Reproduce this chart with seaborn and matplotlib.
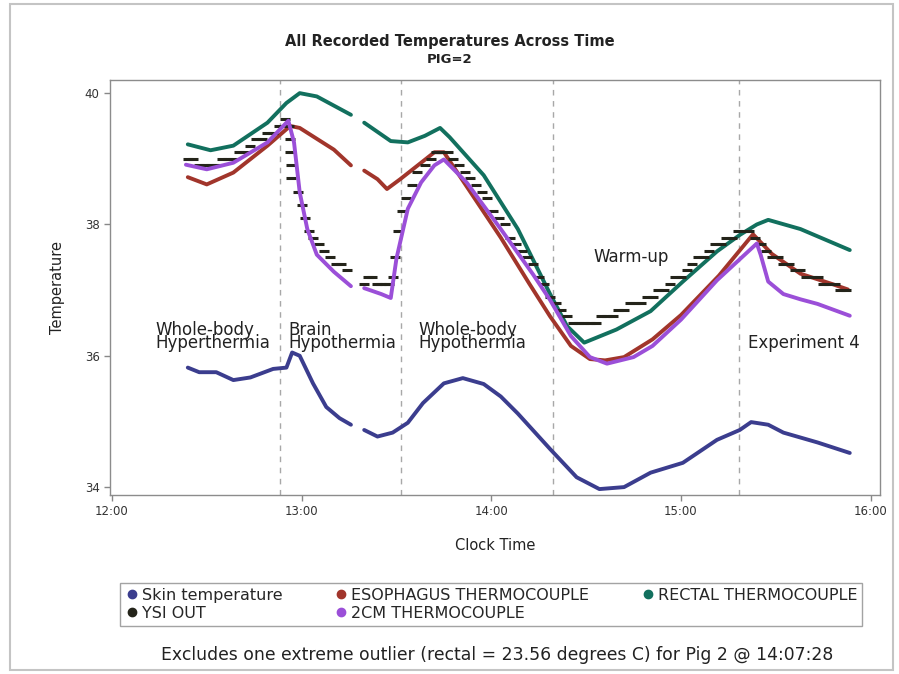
import pandas as pd
import matplotlib
matplotlib.use("Agg")
import matplotlib.pyplot as plt
import seaborn as sns
from matplotlib.lines import Line2D
from matplotlib.patches import Rectangle
from matplotlib.ticker import FuncFormatter

# --- Datos: hora del reloj en horas decimales, temperatura en grados C ---
# (None marca el hueco sin registros alrededor de las 13:17)

skin_time = [12.40, 12.46, 12.55, 12.64, 12.73, 12.85, 12.92, 12.95, 12.99, 13.06,
             13.13, 13.20, 13.26, None, 13.33, 13.40, 13.48, 13.56, 13.64, 13.75,
             13.85, 13.96, 14.05, 14.14, 14.31, 14.45, 14.57, 14.70, 14.84, 15.01,
             15.19, 15.31, 15.37, 15.46, 15.54, 15.72, 15.89]
skin_temp = [35.82, 35.75, 35.75, 35.63, 35.67, 35.80, 35.82, 36.05, 36.00, 35.58,
             35.22, 35.05, 34.95, None, 34.87, 34.77, 34.83, 34.98, 35.28, 35.58,
             35.66, 35.57, 35.38, 35.12, 34.58, 34.15, 33.97, 34.00, 34.22, 34.37,
             34.72, 34.87, 34.99, 34.95, 34.83, 34.68, 34.52]

esoph_time = [12.40, 12.50, 12.64, 12.82, 12.94, 12.99, 13.17, 13.26, None, 13.33,
              13.40, 13.45, 13.52, 13.63, 13.70, 13.75, 13.87, 14.05, 14.20, 14.31,
              14.42, 14.52, 14.60, 14.70, 14.85, 15.00, 15.20, 15.38, 15.48, 15.63,
              15.80, 15.88]
esoph_temp = [38.72, 38.61, 38.79, 39.20, 39.50, 39.47, 39.14, 38.90, None, 38.82,
              38.69, 38.54, 38.69, 38.94, 39.10, 39.10, 38.58, 37.80, 37.10, 36.60,
              36.15, 35.95, 35.93, 35.98, 36.25, 36.62, 37.22, 37.85, 37.55, 37.25,
              37.09, 37.01]

rectal_time = [12.40, 12.52, 12.64, 12.82, 12.92, 12.99, 13.08, 13.26, None, 13.33,
               13.47, 13.56, 13.65, 13.73, 13.78, 13.96, 14.14, 14.31, 14.40, 14.49,
               14.66, 14.84, 15.01, 15.19, 15.31, 15.40, 15.46, 15.63, 15.89]
rectal_temp = [39.22, 39.13, 39.20, 39.55, 39.85, 40.00, 39.95, 39.67, None, 39.55,
               39.27, 39.25, 39.35, 39.47, 39.33, 38.75, 37.93, 36.94, 36.45, 36.20,
               36.40, 36.68, 37.13, 37.59, 37.84, 38.00, 38.07, 37.93, 37.61]

cm2_time = [12.39, 12.50, 12.64, 12.82, 12.93, 12.96, 12.99, 13.03, 13.08, 13.17,
            13.26, None, 13.33, 13.42, 13.47, 13.50, 13.56, 13.63, 13.70, 13.75,
            13.87, 14.05, 14.22, 14.31, 14.42, 14.52, 14.61, 14.75, 14.85, 15.00,
            15.19, 15.40, 15.42, 15.46, 15.54, 15.63, 15.72, 15.89]
cm2_temp = [38.91, 38.84, 38.94, 39.25, 39.58, 39.25, 38.49, 37.93, 37.54, 37.28,
            37.06, None, 37.03, 36.94, 36.88, 37.48, 38.24, 38.64, 38.90, 38.99,
            38.64, 37.93, 37.24, 36.85, 36.30, 35.98, 35.88, 35.98, 36.15, 36.55,
            37.15, 37.71, 37.54, 37.13, 36.94, 36.86, 36.79, 36.61]

# Lecturas del YSI (resolucion de 0.1 grados)
ysi_time = [12.40, 12.43, 12.46, 12.49, 12.52, 12.55, 12.58, 12.61, 12.64, 12.67,
            12.70, 12.73, 12.76, 12.79, 12.82, 12.85, 12.88, 12.91, 12.935, 12.94,
            12.94, 12.945, 12.945, 12.98, 13.00, 13.02, 13.04, 13.06, 13.09, 13.12,
            13.15, 13.18, 13.21, 13.24, 13.33, 13.35, 13.37, 13.40, 13.42, 13.44,
            13.46, 13.48, 13.49, 13.51, 13.53, 13.55, 13.58, 13.61, 13.65, 13.68,
            13.71, 13.74, 13.77, 13.80, 13.83, 13.86, 13.89, 13.92, 13.95, 13.98,
            14.01, 14.04, 14.07, 14.10, 14.13, 14.16, 14.19, 14.22, 14.25, 14.28,
            14.31, 14.34, 14.37, 14.40, 14.43, 14.46, 14.49, 14.52, 14.55, 14.58,
            14.61, 14.64, 14.67, 14.70, 14.73, 14.76, 14.79, 14.82, 14.85, 14.88,
            14.91, 14.94, 14.97, 15.00, 15.03, 15.06, 15.09, 15.12, 15.15, 15.18,
            15.21, 15.24, 15.27, 15.30, 15.33, 15.36, 15.39, 15.42, 15.45, 15.48,
            15.51, 15.54, 15.57, 15.60, 15.63, 15.66, 15.69, 15.72, 15.75, 15.78,
            15.81, 15.84, 15.87]
ysi_temp = [39.0, 39.0, 38.9, 38.9, 38.9, 38.9, 39.0, 39.0, 39.0, 39.1,
            39.1, 39.2, 39.3, 39.3, 39.4, 39.4, 39.5, 39.6, 39.5, 39.3,
            39.1, 38.9, 38.7, 38.5, 38.3, 38.1, 37.9, 37.8, 37.7, 37.6,
            37.5, 37.4, 37.4, 37.3, 37.1, 37.2, 37.2, 37.1, 37.1, 37.1,
            37.1, 37.2, 37.5, 37.9, 38.2, 38.4, 38.6, 38.8, 38.9, 39.0,
            39.1, 39.1, 39.1, 39.0, 38.9, 38.8, 38.7, 38.6, 38.5, 38.4,
            38.2, 38.1, 38.0, 37.8, 37.7, 37.6, 37.5, 37.4, 37.2, 37.1,
            36.9, 36.8, 36.7, 36.6, 36.5, 36.5, 36.5, 36.5, 36.5, 36.6,
            36.6, 36.6, 36.7, 36.7, 36.8, 36.8, 36.8, 36.9, 36.9, 37.0,
            37.0, 37.1, 37.2, 37.2, 37.3, 37.4, 37.5, 37.5, 37.6, 37.7,
            37.7, 37.8, 37.8, 37.9, 37.9, 37.9, 37.8, 37.7, 37.6, 37.5,
            37.5, 37.4, 37.4, 37.3, 37.3, 37.2, 37.2, 37.2, 37.1, 37.1,
            37.1, 37.0, 37.0]

# Cambios de fase del experimento
phase_times = [12.888, 13.526, 14.324, 15.305]
phase_labels = ["Whole-body\nHyperthermia", "Brain\nHypothermia",
                "Whole-body\nHypothermia", "Warm-up", "Experiment 4"]
label_pos = [(12.227, 36.29), (12.929, 36.29), (13.615, 36.29), (14.538, 37.51), (15.356, 36.20)]

colors = {"Skin temperature": "#3b3d8e", "ESOPHAGUS THERMOCOUPLE": "#a1352b",
          "RECTAL THERMOCOUPLE": "#12705e", "YSI OUT": "#24241a",
          "2CM THERMOCOUPLE": "#9b4fd8"}


def to_frame(name, times, temps):
    df = pd.DataFrame({"time": times, "temp": temps}, dtype=float)
    df["segment"] = df["temp"].isna().cumsum()
    df["series"] = name
    return df.dropna()


def fmt_clock(x, pos):
    h = int(x)
    m = int(round((x - h) * 60))
    return f"{h}:{m:02d}"


sns.set_theme(style="white")
plt.rcParams["font.family"] = ["DejaVu Sans"]

fig = plt.figure(figsize=(8.99, 6.74), dpi=100)
ax = fig.add_axes([0.1224, 0.2656, 0.8566, 0.6157])

line_data = {
    "Skin temperature": (skin_time, skin_temp),
    "ESOPHAGUS THERMOCOUPLE": (esoph_time, esoph_temp),
    "RECTAL THERMOCOUPLE": (rectal_time, rectal_temp),
    "2CM THERMOCOUPLE": (cm2_time, cm2_temp),
}

# Lineas de las fases
for t in phase_times:
    ax.axvline(t, color="#a8a8a8", linestyle=(0, (4, 4)), linewidth=1, zorder=1)

# Series continuas (el orden de dibujo sigue al original: el 2CM queda encima del YSI)
for i, name in enumerate(["Skin temperature", "ESOPHAGUS THERMOCOUPLE", "RECTAL THERMOCOUPLE"]):
    df = to_frame(name, *line_data[name])
    sns.lineplot(data=df, x="time", y="temp", units="segment", estimator=None,
                 color=colors[name], linewidth=2.8, sort=False, legend=False,
                 ax=ax, zorder=2 + i)

sns.scatterplot(x=ysi_time, y=ysi_temp, marker="_", s=45, linewidth=2.2,
                color=colors["YSI OUT"], ax=ax, zorder=6, legend=False)

df = to_frame("2CM THERMOCOUPLE", *line_data["2CM THERMOCOUPLE"])
sns.lineplot(data=df, x="time", y="temp", units="segment", estimator=None,
             color=colors["2CM THERMOCOUPLE"], linewidth=2.8, sort=False,
             legend=False, ax=ax, zorder=7)

for text, (x, y) in zip(phase_labels, label_pos):
    ax.text(x, y, text, fontsize=12, ha="left", va="center", linespacing=0.66,
            color="#222222", zorder=8)

ax.set_xlim(11.99, 16.05)
ax.set_ylim(33.88, 40.2)
ax.set_xticks([12, 13, 14, 15, 16])
ax.set_yticks([34, 36, 38, 40])
ax.xaxis.set_major_formatter(FuncFormatter(fmt_clock))
ax.tick_params(axis="both", direction="out", length=4, width=1, color="#888888",
               labelsize=8.5, labelcolor="#333333", bottom=True, left=True)
for sp in ax.spines.values():
    sp.set_color("#8c8c8c")
    sp.set_linewidth(1)
ax.set_xlabel("Clock Time", fontsize=10.5, color="#222222", labelpad=14)
ax.set_ylabel("Temperature", fontsize=10.5, color="#222222", labelpad=14)

fig.text(0.5, 0.938, "All Recorded Temperatures Across Time", ha="center", va="center",
         fontsize=10.5, fontweight="bold", color="#222222")
fig.text(0.5, 0.912, "PIG=2", ha="center", va="center", fontsize=9.5,
         fontweight="bold", color="#222222")

# Leyenda (orden por columnas como en el original)
order = ["Skin temperature", "YSI OUT", "ESOPHAGUS THERMOCOUPLE", "2CM THERMOCOUPLE",
         "RECTAL THERMOCOUPLE"]
handles = [Line2D([], [], marker="o", linestyle="", markersize=6,
                  markerfacecolor=colors[n], markeredgecolor=colors[n]) for n in order]
leg = fig.legend(handles, order, loc="upper left", ncol=3, mode="expand",
                 bbox_to_anchor=(120 / 899, 1 - 632 / 674, 742 / 899, 49 / 674),
                 fontsize=11.5, frameon=True, fancybox=False, borderpad=0.3,
                 labelspacing=0.2, handletextpad=0.15, handlelength=0.9,
                 borderaxespad=0)
leg.get_frame().set_edgecolor("#8c8c8c")
leg.get_frame().set_linewidth(1)

fig.text(497 / 899, 1 - 655 / 674,
         "Excludes one extreme outlier (rectal = 23.56 degrees C) for Pig 2 @ 14:07:28",
         ha="center", va="center", fontsize=12.4, color="#222222")

fig.patches.append(Rectangle((0.011, 0.006), 0.982, 0.988, transform=fig.transFigure,
                             fill=False, edgecolor="#c4c4c4", linewidth=1.5))

fig.savefig("out.png", dpi=100)
plt.close(fig)
